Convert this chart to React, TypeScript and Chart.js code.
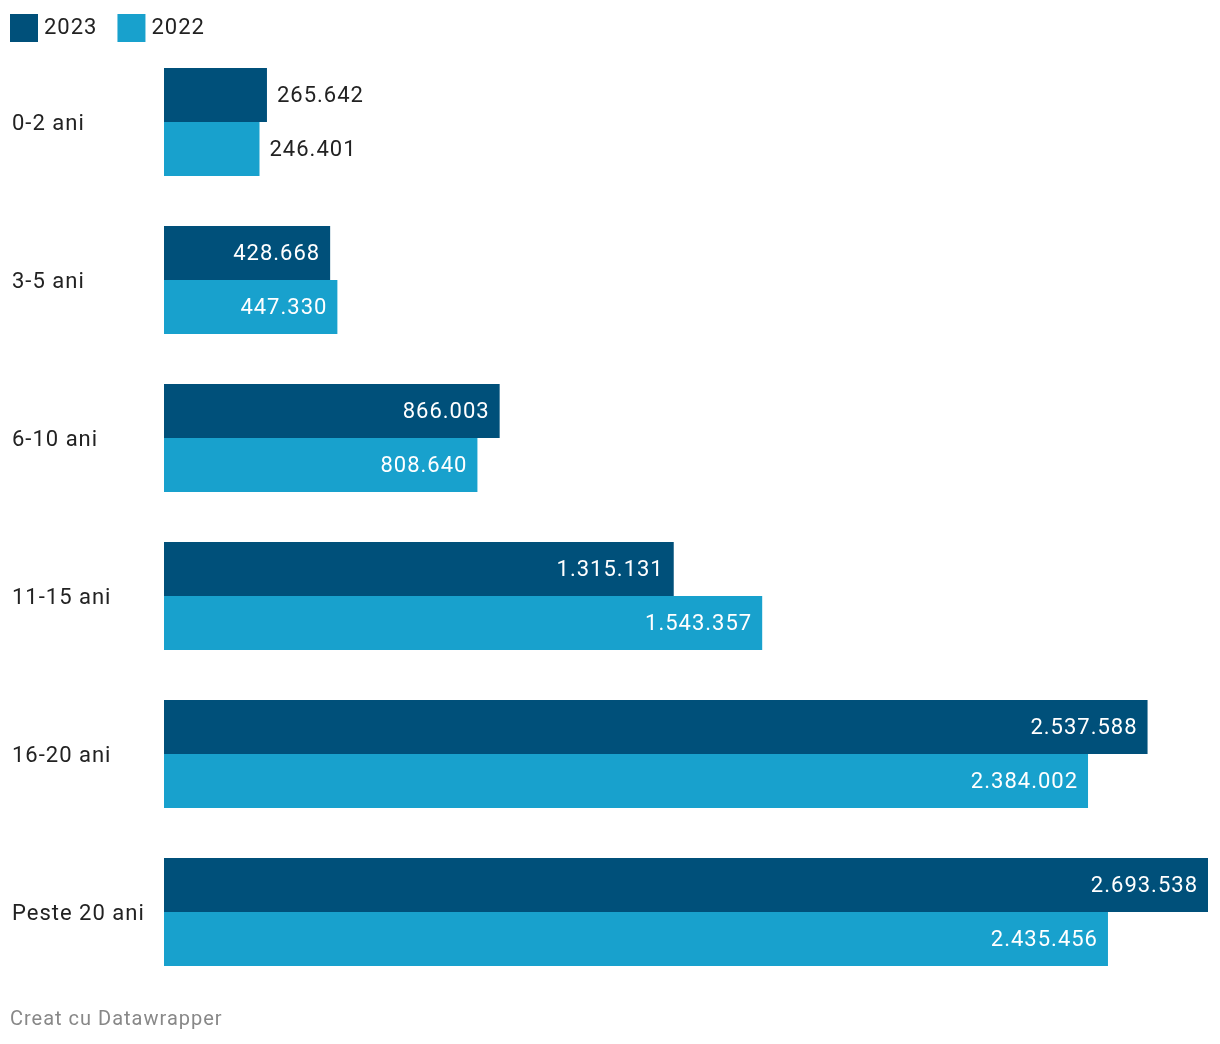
import React, { useEffect, useRef } from "react";
import { Chart, registerables } from "chart.js";

Chart.register(...registerables);

const categories = ["0-2 ani", "3-5 ani", "6-10 ani", "11-15 ani", "16-20 ani", "Peste 20 ani"];
const values2023 = [265642, 428668, 866003, 1315131, 2537588, 2693538];
const values2022 = [246401, 447330, 808640, 1543357, 2384002, 2435456];
const seriesLabels = ["2023", "2022"];
const seriesColors = ["#00507a", "#18a1cd"];
const footerText = "Creat cu Datawrapper";

const FONT = "Roboto, 'Noto Sans', sans-serif";

function fmt(v: number): string {
  return String(v).replace(/\B(?=(\d{3})+(?!\d))/g, ".");
}

const spacingPlugin = {
  id: "spacing",
  beforeUpdate(chart: any) {
    chart.ctx.letterSpacing = "1px";
  },
  beforeDraw(chart: any) {
    chart.ctx.letterSpacing = "1px";
  },
};

const labelsPlugin = {
  id: "valueLabels",
  afterDatasetsDraw(chart: any) {
    const ctx = chart.ctx;
    ctx.save();
    ctx.letterSpacing = "1px";
    ctx.font = `22px ${FONT}`;
    ctx.textBaseline = "middle";
    chart.data.datasets.forEach((ds: any, di: number) => {
      const meta = chart.getDatasetMeta(di);
      meta.data.forEach((bar: any, i: number) => {
        const text = fmt(ds.data[i]);
        const w = ctx.measureText(text).width;
        const barW = bar.x - bar.base;
        const y = bar.y + 1;
        if (w + 24 < barW) {
          ctx.fillStyle = "#ffffff";
          ctx.textAlign = "right";
          ctx.fillText(text, bar.x - 10, y);
        } else {
          ctx.fillStyle = "#222222";
          ctx.textAlign = "left";
          ctx.fillText(text, bar.x + 10, y);
        }
      });
    });
    ctx.restore();
  },
};

const legendFooterPlugin = {
  id: "legendFooter",
  afterDraw(chart: any) {
    const ctx = chart.ctx;
    ctx.save();
    ctx.letterSpacing = "1px";
    ctx.font = `22px ${FONT}`;
    ctx.textBaseline = "middle";
    ctx.textAlign = "left";
    let x = 10;
    chart.data.datasets.forEach((ds: any) => {
      ctx.fillStyle = ds.backgroundColor;
      ctx.fillRect(x, 14, 28, 28);
      ctx.fillStyle = "#222222";
      ctx.fillText(ds.label, x + 34, 28);
      x += 34 + ctx.measureText(ds.label).width + 20;
    });
    ctx.font = `20px ${FONT}`;
    ctx.fillStyle = "#888888";
    ctx.textBaseline = "alphabetic";
    ctx.fillText(footerText, 10, 1025);
    ctx.restore();
  },
};

export default function App() {
  const ref = useRef<HTMLCanvasElement>(null);
  useEffect(() => {
    document.body.style.margin = "0";
    const chart = new Chart(ref.current!, {
      type: "bar",
      data: {
        labels: categories,
        datasets: [
          { label: seriesLabels[0], data: values2023, backgroundColor: seriesColors[0] },
          { label: seriesLabels[1], data: values2022, backgroundColor: seriesColors[1] },
        ],
      },
      options: {
        indexAxis: "y",
        animation: false,
        responsive: false,
        maintainAspectRatio: false,
        layout: { padding: { top: 43, bottom: 53, left: 12, right: 12 } },
        datasets: {
          bar: { categoryPercentage: 108 / 158, barPercentage: 1, borderWidth: 0 },
        },
        plugins: {
          legend: { display: false },
          tooltip: { enabled: false },
        },
        scales: {
          x: { display: false, min: 0, max: 2693538 },
          y: {
            grid: { display: false },
            border: { display: false },
            ticks: {
              crossAlign: "far",
              padding: 0,
              labelOffset: 2,
              color: "#222222",
              font: { family: FONT, size: 22 },
            },
            afterFit(scale: any) {
              scale.width = 152;
            },
          },
        },
      },
      plugins: [spacingPlugin, labelsPlugin, legendFooterPlugin],
    } as any);
    return () => chart.destroy();
  }, []);
  return (
    <div style={{ position: "absolute", left: 0, top: 0, width: 1220, height: 1044 }}>
      <canvas ref={ref} width={1220} height={1044} style={{ width: 1220, height: 1044 }} />
    </div>
  );
}
